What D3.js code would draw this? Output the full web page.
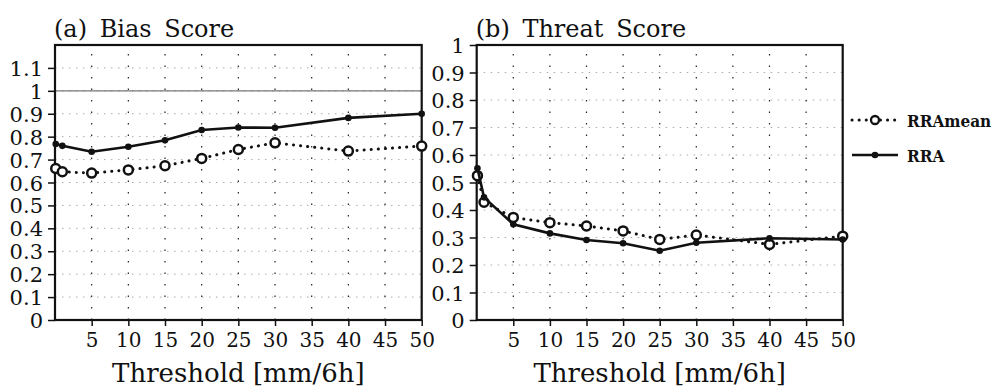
<!DOCTYPE html>
<html>
<head>
<meta charset="utf-8">
<script src="https://cdn.jsdelivr.net/npm/d3@7"></script>
<style>
  body { margin: 0; background: #fff; }
  svg text { font-family: "DejaVu Serif", serif; fill: #111; }
  .legend text { font-family: "DejaVu Serif Condensed", "DejaVu Serif", serif; font-weight: bold; }
</style>
</head>
<body>
<div id="chart"></div>
<script>
// thresholds [mm/6h]
var thresholds = [0.1, 1, 5, 10, 15, 20, 25, 30, 40, 50];

// (a) bias score
var biasRRA     = [0.768, 0.760, 0.734, 0.756, 0.784, 0.829, 0.840, 0.839, 0.882, 0.900];
var biasRRAmean = [0.661, 0.647, 0.641, 0.655, 0.673, 0.705, 0.744, 0.773, 0.737, 0.759];

// (b) threat score
var tsRRA     = [0.552, 0.446, 0.348, 0.315, 0.291, 0.279, 0.252, 0.281, 0.297, 0.293];
var tsRRAmean = [0.525, 0.428, 0.373, 0.354, 0.342, 0.324, 0.293, 0.309, 0.275, 0.305];

var xTicks = [5, 10, 15, 20, 25, 30, 35, 40, 45, 50];
var biasTicks = [0, 0.1, 0.2, 0.3, 0.4, 0.5, 0.6, 0.7, 0.8, 0.9, 1, 1.1];
var tsTicks = [0, 0.1, 0.2, 0.3, 0.4, 0.5, 0.6, 0.7, 0.8, 0.9, 1];

var svg = d3.select("#chart").append("svg")
    .attr("width", 994)
    .attr("height", 389);

var plotTop = 45, plotBottom = 320;

function panel(opts) {
    var x = d3.scaleLinear().domain([0, 50]).range([opts.left, opts.right]);
    var y = d3.scaleLinear().domain([0, opts.ymax]).range([plotBottom, plotTop]);
    var g = svg.append("g");

    // horizontal grid, light grey dots
    g.selectAll(".hgrid")
        .data(opts.yTicks.filter(function (d) { return d > 0; }))
        .enter().append("line")
        .attr("x1", x(0)).attr("x2", x(50))
        .attr("y1", function (d) { return y(d); })
        .attr("y2", function (d) { return y(d); })
        .attr("stroke", "#aaa")
        .attr("stroke-width", 1)
        .attr("stroke-dasharray", "1.5,5.5");

    // vertical grid, black dots
    g.selectAll(".vgrid")
        .data(xTicks.slice(0, -1))
        .enter().append("line")
        .attr("x1", function (d) { return x(d); })
        .attr("x2", function (d) { return x(d); })
        .attr("y1", plotBottom).attr("y2", plotTop)
        .attr("stroke", "#222")
        .attr("stroke-width", 1.2)
        .attr("stroke-dasharray", "1.5,10");

    if (opts.refLine) {
        g.append("line")
            .attr("x1", x(0)).attr("x2", x(50))
            .attr("y1", y(1)).attr("y2", y(1))
            .attr("stroke", "#777")
            .attr("stroke-width", 1.2);
    }

    // axes
    var xAxis = d3.axisBottom(x).tickValues(xTicks).tickSize(6).tickPadding(7)
        .tickFormat(d3.format("d"));
    var yAxis = d3.axisLeft(y).tickValues(opts.yTicks).tickSize(7).tickPadding(5)
        .tickFormat(function (d) { return d3.format("~g")(d); });

    var xa = g.append("g").attr("transform", "translate(0," + plotBottom + ")").call(xAxis);
    var ya = g.append("g").attr("transform", "translate(" + opts.left + ",0)").call(yAxis);
    [xa, ya].forEach(function (a) {
        a.attr("font-family", null).attr("font-size", null);
        a.select(".domain").remove();
        a.selectAll("line").attr("stroke", "#111").attr("stroke-width", 1.5);
        a.selectAll("text").style("font-size", "20px").attr("fill", "#111");
    });
    xa.selectAll("text").attr("dy", "0.68em");
    ya.selectAll("text").style("font-size", "21px").attr("dy", "0.36em");

    // frame
    g.append("rect")
        .attr("x", x(0)).attr("y", plotTop)
        .attr("width", x(50) - x(0)).attr("height", plotBottom - plotTop)
        .attr("fill", "none")
        .attr("stroke", "#111")
        .attr("stroke-width", 2.2);

    var line = d3.line()
        .x(function (d) { return x(d[0]); })
        .y(function (d) { return y(d[1]); });

    var mean = d3.zip(thresholds, opts.mean);
    var rra = d3.zip(thresholds, opts.rra);

    // RRAmean dotted with open circles
    g.append("path")
        .datum(mean)
        .attr("d", line)
        .attr("fill", "none")
        .attr("stroke", "#111")
        .attr("stroke-width", 3)
        .attr("stroke-linecap", "round")
        .attr("stroke-dasharray", "0.1,7");
    g.selectAll(".mean")
        .data(mean)
        .enter().append("circle")
        .attr("cx", function (d) { return x(d[0]); })
        .attr("cy", function (d) { return y(d[1]); })
        .attr("r", 4.5)
        .attr("fill", "#fff")
        .attr("stroke", "#111")
        .attr("stroke-width", 2.5);

    // RRA solid with filled dots
    g.append("path")
        .datum(rra)
        .attr("d", line)
        .attr("fill", "none")
        .attr("stroke", "#111")
        .attr("stroke-width", 2.6);
    g.selectAll(".rra")
        .data(rra)
        .enter().append("circle")
        .attr("cx", function (d) { return x(d[0]); })
        .attr("cy", function (d) { return y(d[1]); })
        .attr("r", 3.3)
        .attr("fill", "#111");

    // title and x label
    g.append("text")
        .attr("x", opts.left - 1).attr("y", 37)
        .style("font-size", "24px")
        .style("word-spacing", "5px")
        .text(opts.title);
    g.append("text")
        .attr("x", (opts.left + opts.right) / 2).attr("y", 382)
        .attr("text-anchor", "middle")
        .style("font-size", "26px")
        .text("Threshold [mm/6h]");
}

panel({ left: 55, right: 421.7, ymax: 1.2, yTicks: biasTicks, refLine: true,
        rra: biasRRA, mean: biasRRAmean, title: "(a) Bias Score" });
panel({ left: 476.7, right: 842.7, ymax: 1, yTicks: tsTicks, refLine: false,
        rra: tsRRA, mean: tsRRAmean, title: "(b) Threat Score" });

// legend on the right
var legend = svg.append("g").attr("class", "legend");
var items = [
    { name: "RRAmean", y: 120, dotted: true },
    { name: "RRA", y: 155, dotted: false }
];
items.forEach(function (it) {
    legend.append("line")
        .attr("x1", 852).attr("x2", 898)
        .attr("y1", it.y).attr("y2", it.y)
        .attr("stroke", "#111")
        .attr("stroke-width", it.dotted ? 3 : 2.6)
        .attr("stroke-linecap", it.dotted ? "round" : "butt")
        .attr("stroke-dasharray", it.dotted ? "0.1,7" : null);
    legend.append("circle")
        .attr("cx", 875).attr("cy", it.y)
        .attr("r", it.dotted ? 4 : 3.3)
        .attr("fill", it.dotted ? "#fff" : "#111")
        .attr("stroke", "#111")
        .attr("stroke-width", it.dotted ? 2.3 : 0);
    legend.append("text")
        .attr("x", 907).attr("y", it.y + 7)
        .style("font-size", "17px")
        .text(it.name);
});
</script>
</body>
</html>
